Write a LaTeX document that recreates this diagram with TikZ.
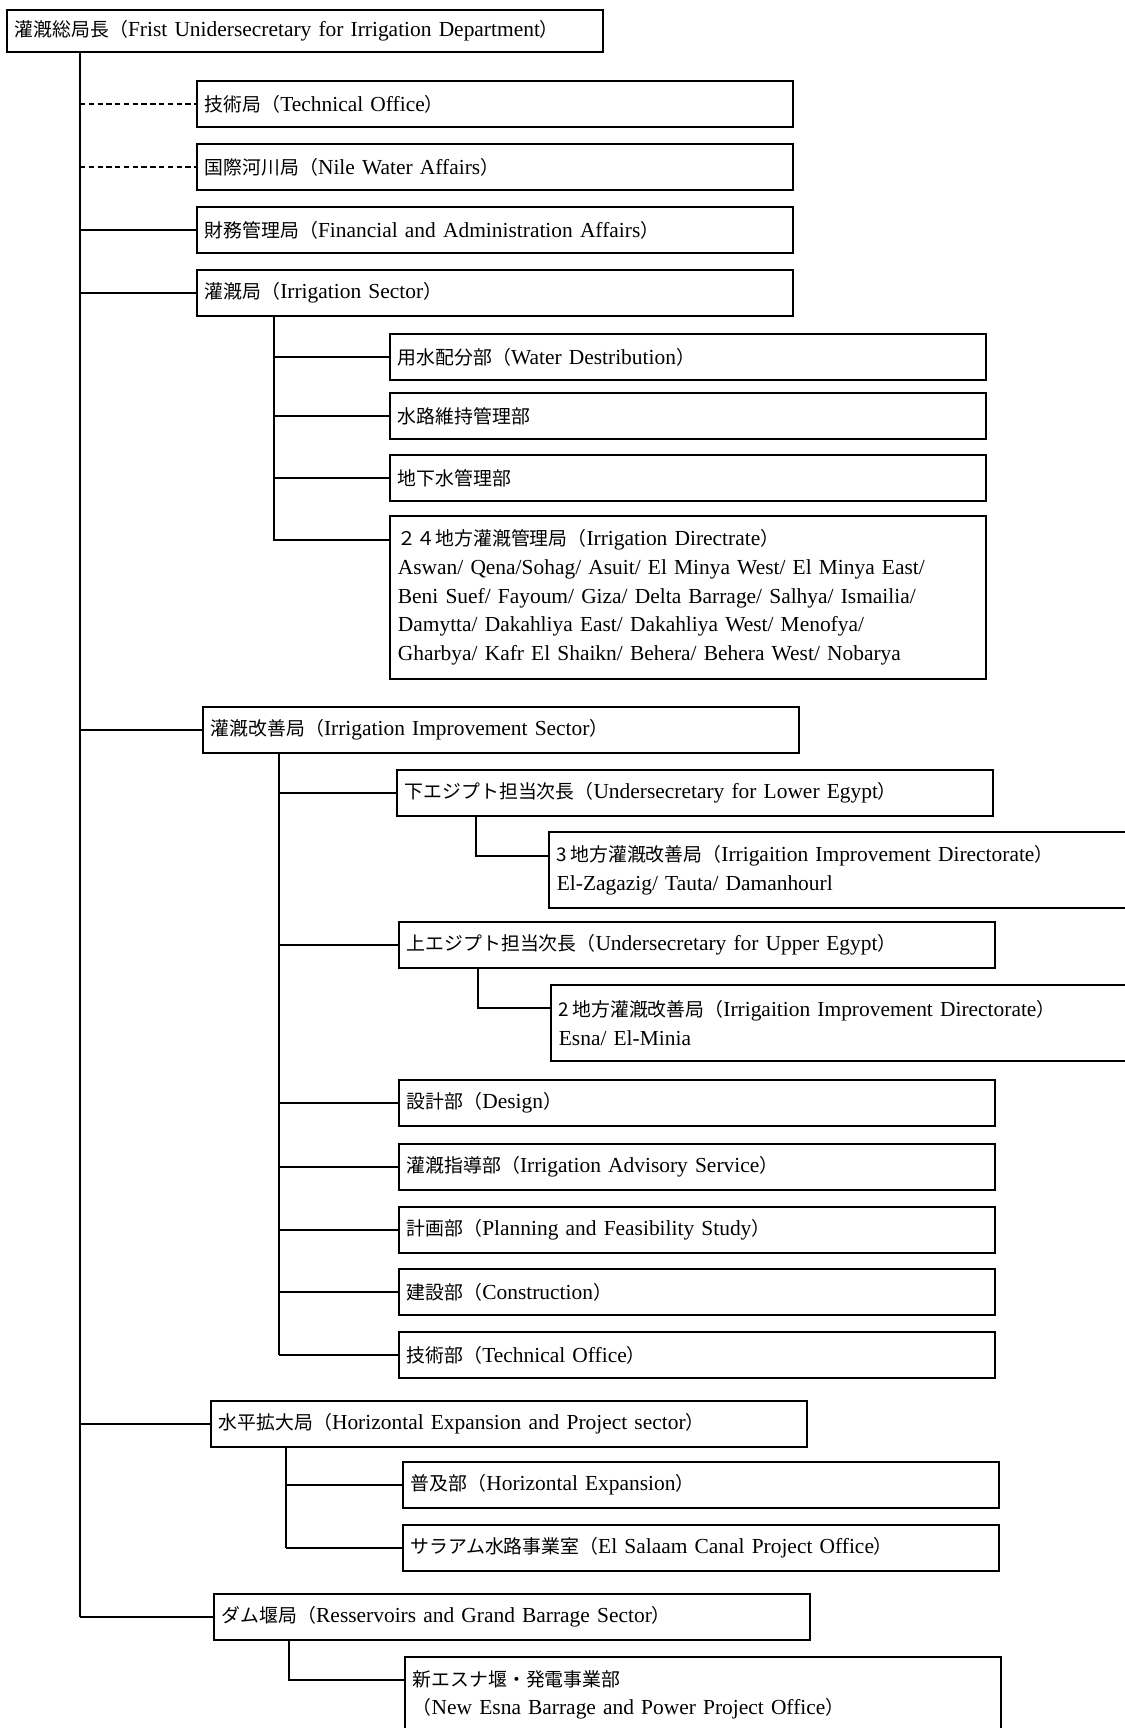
\documentclass[tikz,border=0pt]{standalone}
\usepackage{fontspec}
\setmainfont[WordSpace=0.8]{Liberation Serif}
\newfontfamily\jp[Scale=0.88]{Noto Sans CJK JP}
\begin{document}
\begin{tikzpicture}[x=0.02cm,y=-0.02cm,
  box/.style={draw,line width=1pt,anchor=north west,inner xsep=0.16cm,inner ysep=0pt,
    text width=11.6cm,minimum height=0.92cm,align=left,
    font=\fontsize{12.2}{16.4}\selectfont},
  tall/.style={box,minimum height=#1},
  staff/.style={densely dashed,line width=0.8pt},
  link/.style={line width=1pt}]
\useasboundingbox (0,0) rectangle (1125,1728);
\clip (0,0) rectangle (1125,1728);
% top
\node[tall=0.84cm] (top) at (6,9) {{\jp 灌漑総局長（}Frist Unidersecretary for Irrigation Department{\jp ）}};
% first level
\node[box] (tech) at (196,80) {{\jp 技術局（}Technical Office{\jp ）}};
\node[box] (nile) at (196,143) {{\jp 国際河川局（}Nile Water Affairs{\jp ）}};
\node[box] (fin) at (196,206) {{\jp 財務管理局（}Financial and Administration Affairs{\jp ）}};
\node[box] (irr) at (196,269) {{\jp 灌漑局（}Irrigation Sector{\jp ）}};
\node[box] (wd) at (389,333) {{\jp 用水配分部（}Water Destribution{\jp ）}};
\node[box] (wm) at (389,392) {{\jp 水路維持管理部}};
\node[box] (gw) at (389,454) {{\jp 地下水管理部}};
\node[tall=3.26cm] (dir24) at (389,515) {{\jp ２４地方灌漑管理局（}Irrigation Directrate{\jp ）}\\
  Aswan/ Qena/Sohag/ Asuit/ El Minya West/ El Minya East/\\
  Beni Suef/ Fayoum/ Giza/ Delta Barrage/ Salhya/ Ismailia/\\
  Damytta/ Dakahliya East/ Dakahliya West/ Menofya/\\
  Gharbya/ Kafr El Shaikn/ Behera/ Behera West/ Nobarya};
% irrigation improvement
\node[box] (iis) at (202,706) {{\jp 灌漑改善局（}Irrigation Improvement Sector{\jp ）}};
\node[box] (lower) at (396,769) {{\jp 下エジプト担当次長（}Undersecretary for Lower Egypt{\jp ）}};
\node[tall=1.52cm] (dir3) at (548,831) {{\jp 3\,地方灌漑改善局（}Irrigaition Improvement Directorate{\jp ）}\\El-Zagazig/ Tauta/ Damanhourl};
\node[box] (upper) at (398,921) {{\jp 上エジプト担当次長（}Undersecretary for Upper Egypt{\jp ）}};
\node[tall=1.52cm] (dir2) at (550,984) {{\jp 2\,地方灌漑改善局（}Irrigaition Improvement Directorate{\jp ）}\\Esna/ El-Minia};
\node[box] (design) at (398,1079) {{\jp 設計部（}Design{\jp ）}};
\node[box] (adv) at (398,1143) {{\jp 灌漑指導部（}Irrigation Advisory Service{\jp ）}};
\node[box] (plan) at (398,1206) {{\jp 計画部（}Planning and Feasibility Study{\jp ）}};
\node[box] (cons) at (398,1268) {{\jp 建設部（}Construction{\jp ）}};
\node[box] (tech2) at (398,1331) {{\jp 技術部（}Technical Office{\jp ）}};
% horizontal expansion, dams
\node[box] (he) at (210,1400) {{\jp 水平拡大局（}Horizontal Expansion and Project sector{\jp ）}};
\node[box] (hexp) at (402,1461) {{\jp 普及部（}Horizontal Expansion{\jp ）}};
\node[box] (salaam) at (402,1524) {{\jp サラアム水路事業室（}El Salaam Canal Project Office{\jp ）}};
\node[box] (dam) at (213,1593) {{\jp ダム堰局（}Resservoirs and Grand Barrage Sector{\jp ）}};
\node[tall=1.52cm] (esna) at (404,1656) {{\jp 新エスナ堰・発電事業部}\\{\jp （}New Esna Barrage and Power Project Office{\jp ）}};
% trunks
\coordinate (t0) at (80,0);
\coordinate (t1) at (274,0);
\coordinate (t2) at (279,0);
\coordinate (t3) at (476,0);
\coordinate (t4) at (478,0);
\coordinate (t5) at (286,0);
\coordinate (t6) at (289,0);
\coordinate (d24) at ([yshift=-0.5cm]dir24.north west);
\coordinate (d3) at ([yshift=-0.5cm]dir3.north west);
\coordinate (d2) at ([yshift=-0.48cm]dir2.north west);
\coordinate (de) at ([yshift=-0.48cm]esna.north west);
\draw[link] (top.south -| t0) -- (dam.west -| t0);
\draw[staff] (tech.west -| t0) -- (tech.west);
\draw[staff] (nile.west -| t0) -- (nile.west);
\foreach \n in {fin,irr,iis,he,dam}
  \draw[link] (\n.west -| t0) -- (\n.west);
\draw[link] (irr.south -| t1) -- (d24 -| t1) -- (d24);
\foreach \n in {wd,wm,gw}
  \draw[link] (\n.west -| t1) -- (\n.west);
\draw[link] (iis.south -| t2) -- (tech2.west -| t2);
\foreach \n in {lower,upper,design,adv,plan,cons,tech2}
  \draw[link] (\n.west -| t2) -- (\n.west);
\draw[link] (lower.south -| t3) -- (d3 -| t3) -- (d3);
\draw[link] (upper.south -| t4) -- (d2 -| t4) -- (d2);
\draw[link] (he.south -| t5) -- (salaam.west -| t5);
\foreach \n in {hexp,salaam}
  \draw[link] (\n.west -| t5) -- (\n.west);
\draw[link] (dam.south -| t6) -- (de -| t6) -- (de);
\end{tikzpicture}
\end{document}
